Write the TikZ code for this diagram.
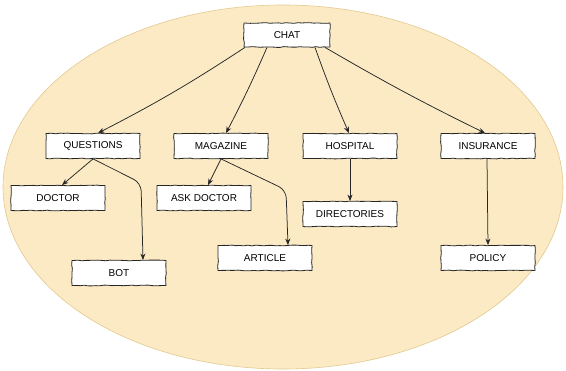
\documentclass[tikz,border=0pt]{standalone}
\usepackage{fontspec}
\setmainfont{Liberation Sans}
\usetikzlibrary{arrows.meta,decorations.pathmorphing}
\definecolor{bgfill}{HTML}{FBEAC4}
\definecolor{bgline}{HTML}{E2C990}
\tikzset{
  box/.style={draw=black!85, fill=white, line width=0.8pt, minimum width=94pt, minimum height=25pt,
    inner sep=0pt, font=\fontsize{10}{12}\selectfont,
    decorate, decoration={random steps, segment length=4pt, amplitude=0.4pt}},
  conn/.style={draw=black!85, line width=0.75pt, -{Stealth[length=6.5pt,width=5pt]}, rounded corners=8pt}
}
\begin{document}
\begin{tikzpicture}[x=1pt,y=-1pt]
\useasboundingbox (0,0) rectangle (566,371);
\draw[fill=bgfill, draw=bgline, line width=0.6pt] (283,187) ellipse [x radius=280, y radius=182];
\node[box, minimum width=86pt, minimum height=24pt] (chat) at (287,35) {CHAT};
\node[box] (q) at (93,146) {QUESTIONS};
\node[box] (m) at (221,146) {MAGAZINE};
\node[box] (h) at (350,146) {HOSPITAL};
\node[box] (i) at (488,146) {INSURANCE};
\node[box] (d) at (58,198) {DOCTOR};
\node[box] (ad) at (204,198) {ASK DOCTOR};
\node[box] (dir) at (350,214) {DIRECTORIES};
\node[box] (bot) at (119,273) {BOT};
\node[box] (art) at (265,258) {ARTICLE};
\node[box] (pol) at (488,258) {POLICY};
\draw[conn] ([xshift=-42pt]chat.south) to[bend left=3] ([xshift=5pt]q.north);
\draw[conn] ([xshift=-20pt]chat.south) to[bend left=2] ([xshift=5pt]m.north);
\draw[conn] ([xshift=28pt]chat.south) to[bend right=2] ([xshift=-1pt]h.north);
\draw[conn] ([xshift=38pt]chat.south) to[bend right=2] ([xshift=-3pt]i.north);
\draw[conn] (q.south) -- ([xshift=4pt]d.north);
\draw[conn] (q.south) -- (141,183) -- ([xshift=24pt]bot.north);
\draw[conn] (m.south) -- ([xshift=4pt]ad.north);
\draw[conn] (m.south) -- (286,190) -- ([xshift=23pt]art.north);
\draw[conn] (h.south) -- (dir.north);
\draw[conn] ([xshift=-1pt]i.south) -- (pol.north);
\end{tikzpicture}
\end{document}
